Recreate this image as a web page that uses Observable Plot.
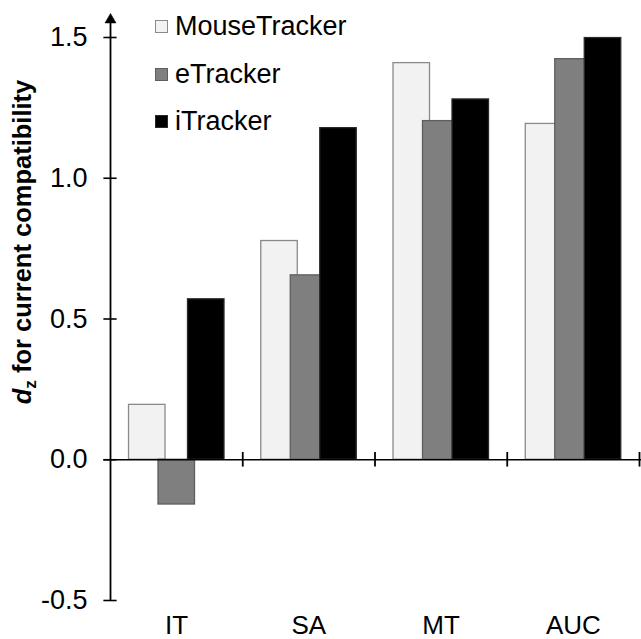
<!DOCTYPE html>
<html>
<head>
<meta charset="utf-8">
<script src="https://cdn.jsdelivr.net/npm/d3@7"></script>
<script src="https://cdn.jsdelivr.net/npm/@observablehq/plot@0.6"></script>
<style>
  html, body { margin: 0; padding: 0; background: #fff; }
  #wrap { position: relative; width: 641px; height: 639px; font-family: "Liberation Sans", Arial, Helvetica, sans-serif; }
  #legend { position: absolute; left: 155px; top: 3px; }
  .row { display: flex; align-items: center; height: 47.5px; }
  .sw { width: 11px; height: 11px; border: 1px solid #888; margin-right: 7px; box-sizing: content-box; }
  .lab { font-size: 27px; line-height: 47.5px; color: #000; }
</style>
</head>
<body>
<div id="wrap"><div id="legend"></div></div>
<script>
// ---- data ----
const categories = ["IT", "SA", "MT", "AUC"];
const series = ["MouseTracker", "eTracker", "iTracker"];
const mouseTracker = [0.195, 0.777, 1.409, 1.193];
const eTracker = [-0.159, 0.655, 1.203, 1.423];
const iTracker = [0.570, 1.178, 1.280, 1.498];
const yTicks = [-0.5, 0, 0.5, 1.0, 1.5];

// ---- styling ----
const fills = ["#f2f2f2", "#7f7f7f", "#000000"];
const strokes = ["#8a8a8a", "#5e5e5e", "#2a2a2a"];
const barOffset = 0.14, barStep = 0.223, barWidth = 0.276;

const values = [mouseTracker, eTracker, iTracker];
const rows = [];
series.forEach((s, j) => categories.forEach((c, i) => rows.push({series: s, sj: j, cat: c, ci: i, value: values[j][i]})));

const barMarks = series.map((s, j) => Plot.rectY(rows.filter(d => d.sj === j), {
  x1: d => d.ci + barOffset + d.sj * barStep,
  x2: d => d.ci + barOffset + d.sj * barStep + barWidth,
  y: "value",
  fill: fills[j],
  stroke: strokes[j],
  strokeWidth: 1.3
}));

const chart = Plot.plot({
  width: 641,
  height: 639,
  marginLeft: 110,
  marginRight: 2,
  marginTop: 37,
  marginBottom: 39,
  style: {fontFamily: '"Liberation Sans", Arial, Helvetica, sans-serif', fontSize: "27px", background: "#fff"},
  x: {type: "linear", domain: [0, categories.length], axis: null},
  y: {domain: [-0.5, 1.5], axis: null},
  marks: [
    ...barMarks,
    // y axis line + arrow
    Plot.ruleX([0], {y1: -0.5, y2: 1.56, stroke: "#000", strokeWidth: 1.8}),
    Plot.dot([0], {x: 0, y: 1.563, symbol: "triangle", r: 4.1, fill: "#000", stroke: "#000", strokeWidth: 0.5}),
    // y ticks crossing the axis
    Plot.ruleY(yTicks, {x1: -0.05, x2: 0.05, stroke: "#000", strokeWidth: 1.6}),
    Plot.text(yTicks, {x: 0, y: d => d, text: d => d.toFixed(1), textAnchor: "end", dx: -23, fontSize: 27, fill: "#000"}),
    // x axis at zero
    Plot.ruleY([0], {x1: -0.05, x2: categories.length + 0.05, stroke: "#000", strokeWidth: 1.6}),
    Plot.ruleX(d3.range(1, categories.length + 1), {y1: -0.026, y2: 0.026, stroke: "#000", strokeWidth: 1.8}),
    Plot.text(categories, {x: (d, i) => i + 0.5, y: -0.5, dy: 25, text: d => d, fontSize: 26, fill: "#000"})
  ]
});

// y-axis label with italic d and subscript z
const svg = d3.select(chart);
const t = svg.append("text")
  .attr("transform", "translate(31,242) rotate(-90)")
  .attr("text-anchor", "middle")
  .attr("font-weight", "bold")
  .attr("font-size", 25.5)
  .attr("fill", "#000")
  .attr("font-family", '"Liberation Sans", Arial, Helvetica, sans-serif');
t.append("tspan").attr("font-style", "italic").text("d");
t.append("tspan").attr("font-size", 17).attr("dy", 5).text("z");
t.append("tspan").attr("dy", -5).text(" for current compatibility");

document.getElementById("wrap").prepend(chart);

// legend
const legend = d3.select("#legend");
series.forEach((s, j) => {
  const r = legend.append("div").attr("class", "row");
  r.append("div").attr("class", "sw").style("background", fills[j]).style("border-color", strokes[j]);
  r.append("span").attr("class", "lab").text(s);
});
</script>
</body>
</html>
